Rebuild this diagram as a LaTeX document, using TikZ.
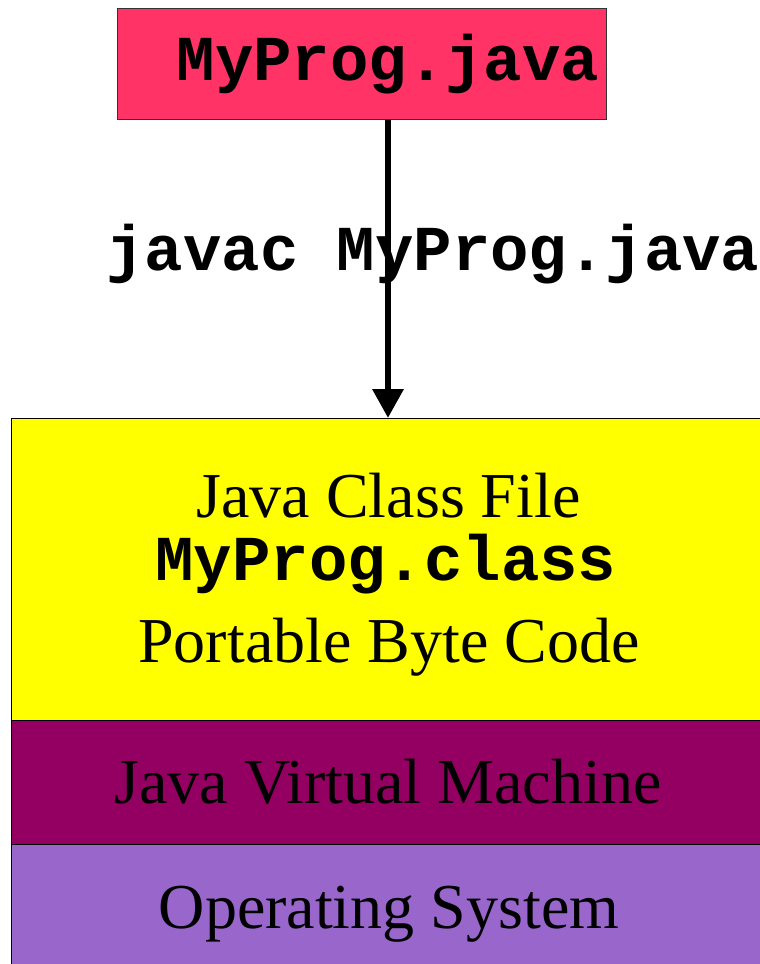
\documentclass[tikz,border=0pt]{standalone}
\usepackage{fontspec}
\setmainfont{Liberation Serif}
\setmonofont{Liberation Mono}
\usetikzlibrary{arrows.meta}

\definecolor{srcred}{HTML}{FF3366}
\definecolor{classyellow}{HTML}{FFFF00}
\definecolor{jvmpurple}{HTML}{930062}
\definecolor{oslilac}{HTML}{9966CC}

\tikzset{
  layer/.style={draw=black, line width=1pt, anchor=north west, minimum width=760pt, inner sep=0pt},
  code/.style={font=\fontsize{64}{64}\selectfont\ttfamily\bfseries, inner sep=0pt, anchor=base},
  plain/.style={font=\fontsize{64}{64}\selectfont, inner sep=0pt, anchor=base},
  flow/.style={line width=6.5pt, -{Triangle[width=30pt,length=29pt]}},
}

\begin{document}
\begin{tikzpicture}[x=1pt,y=-1pt]
  \useasboundingbox (0,0) rectangle (760,964);

  % the source file
  \node[draw=black!80, line width=1pt, fill=srcred, minimum width=489pt, minimum height=111pt,
        anchor=north west] (src) at (116.5,7.5) {};
  \node[code] (srclbl) at (388,80) {MyProg.java};

  % the layers below
  \node[layer, fill=classyellow, minimum height=302pt] (cls) at (10.5,418) {};
  \node[layer, fill=jvmpurple, minimum height=124pt] (jvm) at (10.5,720) {};
  \node[layer, fill=oslilac, minimum height=130pt] (os) at (10.5,844) {};

  \node[plain] (clsa) at (388.5,517) {Java Class File};
  \node[code]  (clsb) at (386,580) {MyProg.class};
  \node[plain] (clsc) at (389,662) {Portable Byte Code};
  \node[plain] (jvmlbl) at (388,803) {Java Virtual Machine};
  \node[plain] (oslbl) at (389,928) {Operating System};

  % compile step
  \node[code] (cmd) at (433,270) {javac MyProg.java};
  \draw[flow] (src.south -| srclbl) -- (srclbl |- cls.north);

\end{tikzpicture}
\end{document}
